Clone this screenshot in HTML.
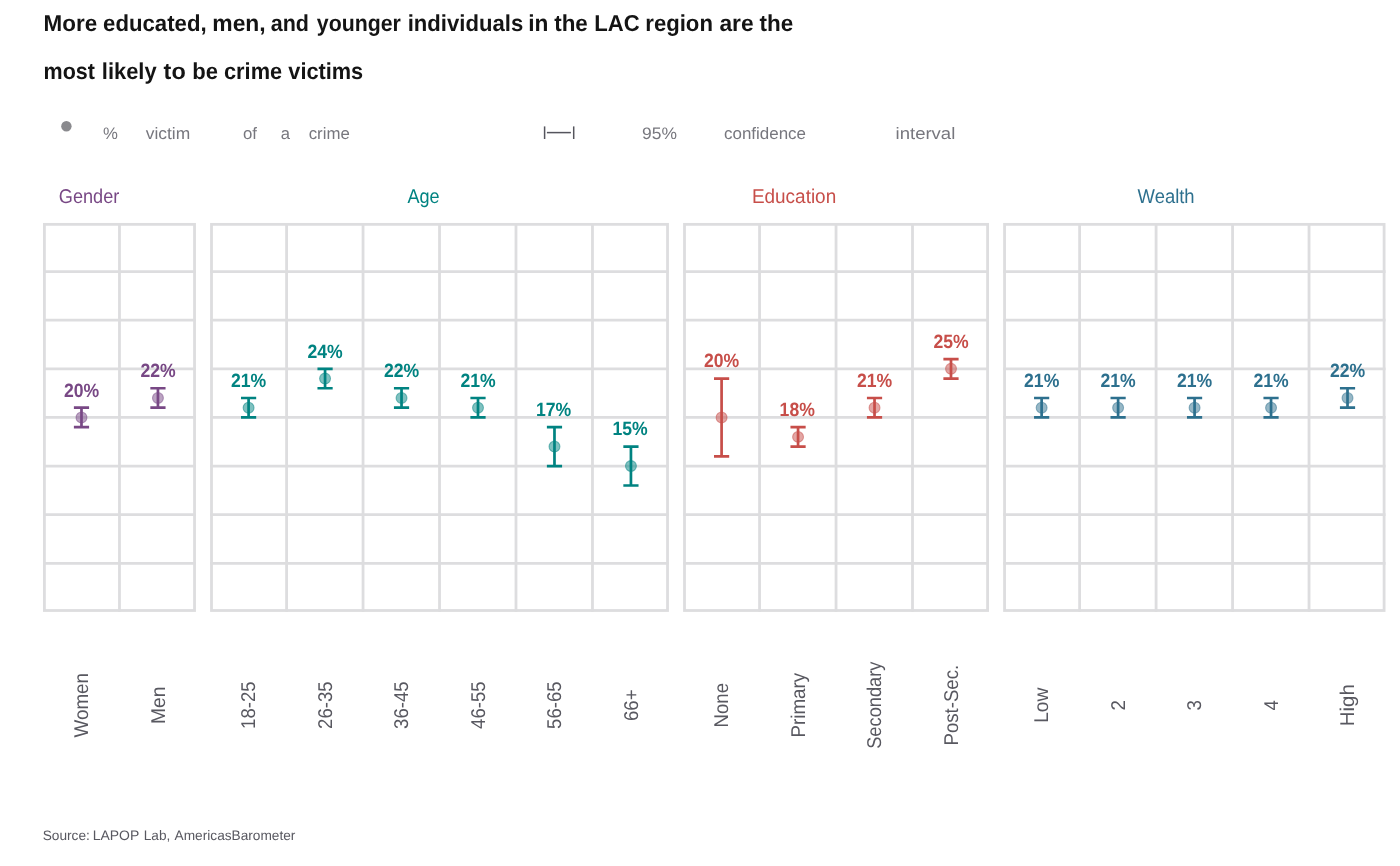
<!DOCTYPE html>
<html lang="en">
<head>
<meta charset="utf-8">
<title>Crime victimization in the LAC region</title>
<style>
html,body{margin:0;padding:0;background:#fff;}
body{width:1400px;height:866px;overflow:hidden;}
svg{display:block;will-change:transform;text-rendering:geometricPrecision;font-family:"Liberation Sans",sans-serif;}
</style>
</head>
<body>
<svg width="1400" height="866" viewBox="0 0 1400 866">
<rect width="1400" height="866" fill="#ffffff"/>
<text y="30.6" font-size="23.0" fill="#141414" font-weight="bold"><tspan x="43.6" textLength="53.6" lengthAdjust="spacingAndGlyphs">More</tspan> <tspan x="103.1" textLength="103.5" lengthAdjust="spacingAndGlyphs">educated,</tspan> <tspan x="212.3" textLength="53.4" lengthAdjust="spacingAndGlyphs">men,</tspan> <tspan x="270.7" textLength="38.2" lengthAdjust="spacingAndGlyphs">and</tspan> <tspan x="316.8" textLength="84.1" lengthAdjust="spacingAndGlyphs">younger</tspan> <tspan x="407.7" textLength="115.5" lengthAdjust="spacingAndGlyphs">individuals</tspan> <tspan x="528.2" textLength="20.2" lengthAdjust="spacingAndGlyphs">in</tspan> <tspan x="554.2" textLength="33.6" lengthAdjust="spacingAndGlyphs">the</tspan> <tspan x="594.3" textLength="45.4" lengthAdjust="spacingAndGlyphs">LAC</tspan> <tspan x="645.3" textLength="67.6" lengthAdjust="spacingAndGlyphs">region</tspan> <tspan x="719.4" textLength="34.2" lengthAdjust="spacingAndGlyphs">are</tspan> <tspan x="759.6" textLength="33.7" lengthAdjust="spacingAndGlyphs">the</tspan></text>
<text y="79.2" font-size="23.0" fill="#141414" font-weight="bold"><tspan x="43.6" textLength="51.3" lengthAdjust="spacingAndGlyphs">most</tspan> <tspan x="101.8" textLength="54.8" lengthAdjust="spacingAndGlyphs">likely</tspan> <tspan x="163.6" textLength="22.1" lengthAdjust="spacingAndGlyphs">to</tspan> <tspan x="192.3" textLength="25.7" lengthAdjust="spacingAndGlyphs">be</tspan> <tspan x="224.0" textLength="58.1" lengthAdjust="spacingAndGlyphs">crime</tspan> <tspan x="288.3" textLength="74.9" lengthAdjust="spacingAndGlyphs">victims</tspan></text>
<circle cx="66.4" cy="126.2" r="5.2" fill="#8a8a8e"/>
<text y="139.1" font-size="16.6" fill="#77777e" font-weight="normal"><tspan x="103.1" textLength="14.9" lengthAdjust="spacingAndGlyphs">%</tspan> <tspan x="145.7" textLength="44.5" lengthAdjust="spacingAndGlyphs">victim</tspan> <tspan x="243.0" textLength="14.0" lengthAdjust="spacingAndGlyphs">of</tspan> <tspan x="280.7">a</tspan> <tspan x="308.7" textLength="41.1" lengthAdjust="spacingAndGlyphs">crime</tspan></text>
<g stroke="#55555d" stroke-width="1.5" fill="none"><line x1="544.6" y1="126.4" x2="544.6" y2="139"/><line x1="546.9" y1="132.6" x2="570.9" y2="132.6"/><line x1="573.7" y1="126.4" x2="573.7" y2="139"/></g>
<text y="139.1" font-size="16.6" fill="#77777e" font-weight="normal"><tspan x="642.1" textLength="34.9" lengthAdjust="spacingAndGlyphs">95%</tspan> <tspan x="724.0" textLength="82.0" lengthAdjust="spacingAndGlyphs">confidence</tspan> <tspan x="895.6" textLength="59.7" lengthAdjust="spacingAndGlyphs">interval</tspan></text>
<text x="58.8" y="203.2" font-size="19.9" fill="#784885" textLength="60.5" lengthAdjust="spacingAndGlyphs">Gender</text>
<text x="407.4" y="203.2" font-size="19.9" fill="#008381" textLength="32.2" lengthAdjust="spacingAndGlyphs">Age</text>
<text x="751.9" y="203.2" font-size="19.9" fill="#c74e49" textLength="84.3" lengthAdjust="spacingAndGlyphs">Education</text>
<text x="1137.6" y="203.2" font-size="19.9" fill="#2d708e" textLength="57.0" lengthAdjust="spacingAndGlyphs">Wealth</text>
<g stroke="#dddddf" stroke-width="2.8" fill="none" shape-rendering="auto">
<line x1="43.00" y1="271.57" x2="195.94" y2="271.57"/>
<line x1="43.00" y1="320.19" x2="195.94" y2="320.19"/>
<line x1="43.00" y1="368.81" x2="195.94" y2="368.81"/>
<line x1="43.00" y1="417.43" x2="195.94" y2="417.43"/>
<line x1="43.00" y1="466.05" x2="195.94" y2="466.05"/>
<line x1="43.00" y1="514.67" x2="195.94" y2="514.67"/>
<line x1="43.00" y1="563.29" x2="195.94" y2="563.29"/>
<line x1="119.47" y1="222.95" x2="119.47" y2="611.91"/>
<rect x="44.40" y="224.35" width="150.14" height="386.16"/>
<line x1="210.11" y1="271.57" x2="668.93" y2="271.57"/>
<line x1="210.11" y1="320.19" x2="668.93" y2="320.19"/>
<line x1="210.11" y1="368.81" x2="668.93" y2="368.81"/>
<line x1="210.11" y1="417.43" x2="668.93" y2="417.43"/>
<line x1="210.11" y1="466.05" x2="668.93" y2="466.05"/>
<line x1="210.11" y1="514.67" x2="668.93" y2="514.67"/>
<line x1="210.11" y1="563.29" x2="668.93" y2="563.29"/>
<line x1="286.58" y1="222.95" x2="286.58" y2="611.91"/>
<line x1="363.05" y1="222.95" x2="363.05" y2="611.91"/>
<line x1="439.52" y1="222.95" x2="439.52" y2="611.91"/>
<line x1="515.99" y1="222.95" x2="515.99" y2="611.91"/>
<line x1="592.46" y1="222.95" x2="592.46" y2="611.91"/>
<rect x="211.51" y="224.35" width="456.02" height="386.16"/>
<line x1="683.10" y1="271.57" x2="988.98" y2="271.57"/>
<line x1="683.10" y1="320.19" x2="988.98" y2="320.19"/>
<line x1="683.10" y1="368.81" x2="988.98" y2="368.81"/>
<line x1="683.10" y1="417.43" x2="988.98" y2="417.43"/>
<line x1="683.10" y1="466.05" x2="988.98" y2="466.05"/>
<line x1="683.10" y1="514.67" x2="988.98" y2="514.67"/>
<line x1="683.10" y1="563.29" x2="988.98" y2="563.29"/>
<line x1="759.57" y1="222.95" x2="759.57" y2="611.91"/>
<line x1="836.04" y1="222.95" x2="836.04" y2="611.91"/>
<line x1="912.51" y1="222.95" x2="912.51" y2="611.91"/>
<rect x="684.50" y="224.35" width="303.08" height="386.16"/>
<line x1="1003.15" y1="271.57" x2="1385.50" y2="271.57"/>
<line x1="1003.15" y1="320.19" x2="1385.50" y2="320.19"/>
<line x1="1003.15" y1="368.81" x2="1385.50" y2="368.81"/>
<line x1="1003.15" y1="417.43" x2="1385.50" y2="417.43"/>
<line x1="1003.15" y1="466.05" x2="1385.50" y2="466.05"/>
<line x1="1003.15" y1="514.67" x2="1385.50" y2="514.67"/>
<line x1="1003.15" y1="563.29" x2="1385.50" y2="563.29"/>
<line x1="1079.62" y1="222.95" x2="1079.62" y2="611.91"/>
<line x1="1156.09" y1="222.95" x2="1156.09" y2="611.91"/>
<line x1="1232.56" y1="222.95" x2="1232.56" y2="611.91"/>
<line x1="1309.03" y1="222.95" x2="1309.03" y2="611.91"/>
<rect x="1004.55" y="224.35" width="379.55" height="386.16"/>
</g>
<g>
<circle cx="81.48" cy="417.43" r="5.45" fill="#784885" fill-opacity="0.5" stroke="#784885" stroke-opacity="0.5" stroke-width="1.1"/>
<path d="M73.89 407.71H89.08M81.48 407.71V427.15M73.89 427.15H89.08" stroke="#784885" stroke-width="2.7" fill="none"/>
<text x="81.53" y="396.51" font-size="19.2" font-weight="bold" fill="#784885" text-anchor="middle" textLength="35.2" lengthAdjust="spacingAndGlyphs">20%</text>
<text transform="translate(88.08 737.40) rotate(-90)" font-size="19.9" fill="#585860" textLength="64.4" lengthAdjust="spacingAndGlyphs">Women</text>
</g>
<g>
<circle cx="157.95" cy="397.98" r="5.45" fill="#784885" fill-opacity="0.5" stroke="#784885" stroke-opacity="0.5" stroke-width="1.1"/>
<path d="M150.35 388.26H165.55M157.95 388.26V407.71M150.35 407.71H165.55" stroke="#784885" stroke-width="2.7" fill="none"/>
<text x="158.00" y="377.06" font-size="19.2" font-weight="bold" fill="#784885" text-anchor="middle" textLength="35.2" lengthAdjust="spacingAndGlyphs">22%</text>
<text transform="translate(164.55 723.95) rotate(-90)" font-size="19.9" fill="#585860" textLength="37.5" lengthAdjust="spacingAndGlyphs">Men</text>
</g>
<g>
<circle cx="248.59" cy="407.71" r="5.45" fill="#008381" fill-opacity="0.5" stroke="#008381" stroke-opacity="0.5" stroke-width="1.1"/>
<path d="M240.99 397.98H256.19M248.59 397.98V417.43M240.99 417.43H256.19" stroke="#008381" stroke-width="2.7" fill="none"/>
<text x="248.64" y="386.78" font-size="19.2" font-weight="bold" fill="#008381" text-anchor="middle" textLength="35.2" lengthAdjust="spacingAndGlyphs">21%</text>
<text transform="translate(255.19 728.90) rotate(-90)" font-size="19.9" fill="#585860" textLength="47.4" lengthAdjust="spacingAndGlyphs">18-25</text>
</g>
<g>
<circle cx="325.06" cy="378.53" r="5.45" fill="#008381" fill-opacity="0.5" stroke="#008381" stroke-opacity="0.5" stroke-width="1.1"/>
<path d="M317.46 368.81H332.67M325.06 368.81V388.26M317.46 388.26H332.67" stroke="#008381" stroke-width="2.7" fill="none"/>
<text x="325.12" y="357.61" font-size="19.2" font-weight="bold" fill="#008381" text-anchor="middle" textLength="35.2" lengthAdjust="spacingAndGlyphs">24%</text>
<text transform="translate(331.67 728.90) rotate(-90)" font-size="19.9" fill="#585860" textLength="47.4" lengthAdjust="spacingAndGlyphs">26-35</text>
</g>
<g>
<circle cx="401.53" cy="397.98" r="5.45" fill="#008381" fill-opacity="0.5" stroke="#008381" stroke-opacity="0.5" stroke-width="1.1"/>
<path d="M393.93 388.26H409.13M401.53 388.26V407.71M393.93 407.71H409.13" stroke="#008381" stroke-width="2.7" fill="none"/>
<text x="401.58" y="377.06" font-size="19.2" font-weight="bold" fill="#008381" text-anchor="middle" textLength="35.2" lengthAdjust="spacingAndGlyphs">22%</text>
<text transform="translate(408.13 728.90) rotate(-90)" font-size="19.9" fill="#585860" textLength="47.4" lengthAdjust="spacingAndGlyphs">36-45</text>
</g>
<g>
<circle cx="478.00" cy="407.71" r="5.45" fill="#008381" fill-opacity="0.5" stroke="#008381" stroke-opacity="0.5" stroke-width="1.1"/>
<path d="M470.40 397.98H485.61M478.00 397.98V417.43M470.40 417.43H485.61" stroke="#008381" stroke-width="2.7" fill="none"/>
<text x="478.06" y="386.78" font-size="19.2" font-weight="bold" fill="#008381" text-anchor="middle" textLength="35.2" lengthAdjust="spacingAndGlyphs">21%</text>
<text transform="translate(484.61 728.90) rotate(-90)" font-size="19.9" fill="#585860" textLength="47.4" lengthAdjust="spacingAndGlyphs">46-55</text>
</g>
<g>
<circle cx="554.48" cy="446.60" r="5.45" fill="#008381" fill-opacity="0.5" stroke="#008381" stroke-opacity="0.5" stroke-width="1.1"/>
<path d="M546.88 427.15H562.08M554.48 427.15V466.05M546.88 466.05H562.08" stroke="#008381" stroke-width="2.7" fill="none"/>
<text x="553.62" y="415.95" font-size="19.2" font-weight="bold" fill="#008381" text-anchor="middle" textLength="35.2" lengthAdjust="spacingAndGlyphs">17%</text>
<text transform="translate(561.08 728.90) rotate(-90)" font-size="19.9" fill="#585860" textLength="47.4" lengthAdjust="spacingAndGlyphs">56-65</text>
</g>
<g>
<circle cx="630.94" cy="466.05" r="5.45" fill="#008381" fill-opacity="0.5" stroke="#008381" stroke-opacity="0.5" stroke-width="1.1"/>
<path d="M623.34 446.60H638.54M630.94 446.60V485.50M623.34 485.50H638.54" stroke="#008381" stroke-width="2.7" fill="none"/>
<text x="630.09" y="435.40" font-size="19.2" font-weight="bold" fill="#008381" text-anchor="middle" textLength="35.2" lengthAdjust="spacingAndGlyphs">15%</text>
<text transform="translate(637.54 721.00) rotate(-90)" font-size="19.9" fill="#585860" textLength="31.6" lengthAdjust="spacingAndGlyphs">66+</text>
</g>
<g>
<circle cx="721.59" cy="417.43" r="5.45" fill="#c74e49" fill-opacity="0.5" stroke="#c74e49" stroke-opacity="0.5" stroke-width="1.1"/>
<path d="M713.99 378.53H729.19M721.59 378.53V456.33M713.99 456.33H729.19" stroke="#c74e49" stroke-width="2.7" fill="none"/>
<text x="721.63" y="367.33" font-size="19.2" font-weight="bold" fill="#c74e49" text-anchor="middle" textLength="35.2" lengthAdjust="spacingAndGlyphs">20%</text>
<text transform="translate(728.19 727.40) rotate(-90)" font-size="19.9" fill="#585860" textLength="44.4" lengthAdjust="spacingAndGlyphs">None</text>
</g>
<g>
<circle cx="798.06" cy="436.88" r="5.45" fill="#c74e49" fill-opacity="0.5" stroke="#c74e49" stroke-opacity="0.5" stroke-width="1.1"/>
<path d="M790.46 427.15H805.66M798.06 427.15V446.60M790.46 446.60H805.66" stroke="#c74e49" stroke-width="2.7" fill="none"/>
<text x="797.21" y="415.95" font-size="19.2" font-weight="bold" fill="#c74e49" text-anchor="middle" textLength="35.2" lengthAdjust="spacingAndGlyphs">18%</text>
<text transform="translate(804.66 737.60) rotate(-90)" font-size="19.9" fill="#585860" textLength="64.8" lengthAdjust="spacingAndGlyphs">Primary</text>
</g>
<g>
<circle cx="874.53" cy="407.71" r="5.45" fill="#c74e49" fill-opacity="0.5" stroke="#c74e49" stroke-opacity="0.5" stroke-width="1.1"/>
<path d="M866.93 397.98H882.13M874.53 397.98V417.43M866.93 417.43H882.13" stroke="#c74e49" stroke-width="2.7" fill="none"/>
<text x="874.58" y="386.78" font-size="19.2" font-weight="bold" fill="#c74e49" text-anchor="middle" textLength="35.2" lengthAdjust="spacingAndGlyphs">21%</text>
<text transform="translate(881.13 748.80) rotate(-90)" font-size="19.9" fill="#585860" textLength="87.2" lengthAdjust="spacingAndGlyphs">Secondary</text>
</g>
<g>
<circle cx="951.00" cy="368.81" r="5.45" fill="#c74e49" fill-opacity="0.5" stroke="#c74e49" stroke-opacity="0.5" stroke-width="1.1"/>
<path d="M943.39 359.09H958.60M951.00 359.09V378.53M943.39 378.53H958.60" stroke="#c74e49" stroke-width="2.7" fill="none"/>
<text x="951.04" y="347.89" font-size="19.2" font-weight="bold" fill="#c74e49" text-anchor="middle" textLength="35.2" lengthAdjust="spacingAndGlyphs">25%</text>
<text transform="translate(957.60 745.50) rotate(-90)" font-size="19.9" fill="#585860" textLength="80.6" lengthAdjust="spacingAndGlyphs">Post-Sec.</text>
</g>
<g>
<circle cx="1041.63" cy="407.71" r="5.45" fill="#2d708e" fill-opacity="0.5" stroke="#2d708e" stroke-opacity="0.5" stroke-width="1.1"/>
<path d="M1034.04 397.98H1049.23M1041.63 397.98V417.43M1034.04 417.43H1049.23" stroke="#2d708e" stroke-width="2.7" fill="none"/>
<text x="1041.68" y="386.78" font-size="19.2" font-weight="bold" fill="#2d708e" text-anchor="middle" textLength="35.2" lengthAdjust="spacingAndGlyphs">21%</text>
<text transform="translate(1048.23 722.80) rotate(-90)" font-size="19.9" fill="#585860" textLength="35.2" lengthAdjust="spacingAndGlyphs">Low</text>
</g>
<g>
<circle cx="1118.11" cy="407.71" r="5.45" fill="#2d708e" fill-opacity="0.5" stroke="#2d708e" stroke-opacity="0.5" stroke-width="1.1"/>
<path d="M1110.51 397.98H1125.70M1118.11 397.98V417.43M1110.51 417.43H1125.70" stroke="#2d708e" stroke-width="2.7" fill="none"/>
<text x="1118.15" y="386.78" font-size="19.2" font-weight="bold" fill="#2d708e" text-anchor="middle" textLength="35.2" lengthAdjust="spacingAndGlyphs">21%</text>
<text transform="translate(1124.70 710.40) rotate(-90)" font-size="19.9" fill="#585860" textLength="10.4" lengthAdjust="spacingAndGlyphs">2</text>
</g>
<g>
<circle cx="1194.58" cy="407.71" r="5.45" fill="#2d708e" fill-opacity="0.5" stroke="#2d708e" stroke-opacity="0.5" stroke-width="1.1"/>
<path d="M1186.98 397.98H1202.17M1194.58 397.98V417.43M1186.98 417.43H1202.17" stroke="#2d708e" stroke-width="2.7" fill="none"/>
<text x="1194.62" y="386.78" font-size="19.2" font-weight="bold" fill="#2d708e" text-anchor="middle" textLength="35.2" lengthAdjust="spacingAndGlyphs">21%</text>
<text transform="translate(1201.17 710.40) rotate(-90)" font-size="19.9" fill="#585860" textLength="10.4" lengthAdjust="spacingAndGlyphs">3</text>
</g>
<g>
<circle cx="1271.05" cy="407.71" r="5.45" fill="#2d708e" fill-opacity="0.5" stroke="#2d708e" stroke-opacity="0.5" stroke-width="1.1"/>
<path d="M1263.45 397.98H1278.64M1271.05 397.98V417.43M1263.45 417.43H1278.64" stroke="#2d708e" stroke-width="2.7" fill="none"/>
<text x="1271.10" y="386.78" font-size="19.2" font-weight="bold" fill="#2d708e" text-anchor="middle" textLength="35.2" lengthAdjust="spacingAndGlyphs">21%</text>
<text transform="translate(1277.64 710.40) rotate(-90)" font-size="19.9" fill="#585860" textLength="10.4" lengthAdjust="spacingAndGlyphs">4</text>
</g>
<g>
<circle cx="1347.52" cy="397.98" r="5.45" fill="#2d708e" fill-opacity="0.5" stroke="#2d708e" stroke-opacity="0.5" stroke-width="1.1"/>
<path d="M1339.92 388.26H1355.12M1347.52 388.26V407.71M1339.92 407.71H1355.12" stroke="#2d708e" stroke-width="2.7" fill="none"/>
<text x="1347.57" y="377.06" font-size="19.2" font-weight="bold" fill="#2d708e" text-anchor="middle" textLength="35.2" lengthAdjust="spacingAndGlyphs">22%</text>
<text transform="translate(1354.12 726.20) rotate(-90)" font-size="19.9" fill="#585860" textLength="42.0" lengthAdjust="spacingAndGlyphs">High</text>
</g>
<text y="840.3" font-size="13.7" fill="#585860" font-weight="normal"><tspan x="42.7" textLength="47.2" lengthAdjust="spacingAndGlyphs">Source:</tspan> <tspan x="92.7" textLength="46.3" lengthAdjust="spacingAndGlyphs">LAPOP</tspan> <tspan x="143.8" textLength="26.5" lengthAdjust="spacingAndGlyphs">Lab,</tspan> <tspan x="174.6" textLength="120.8" lengthAdjust="spacingAndGlyphs">AmericasBarometer</tspan></text>
</svg>
</body>
</html>
